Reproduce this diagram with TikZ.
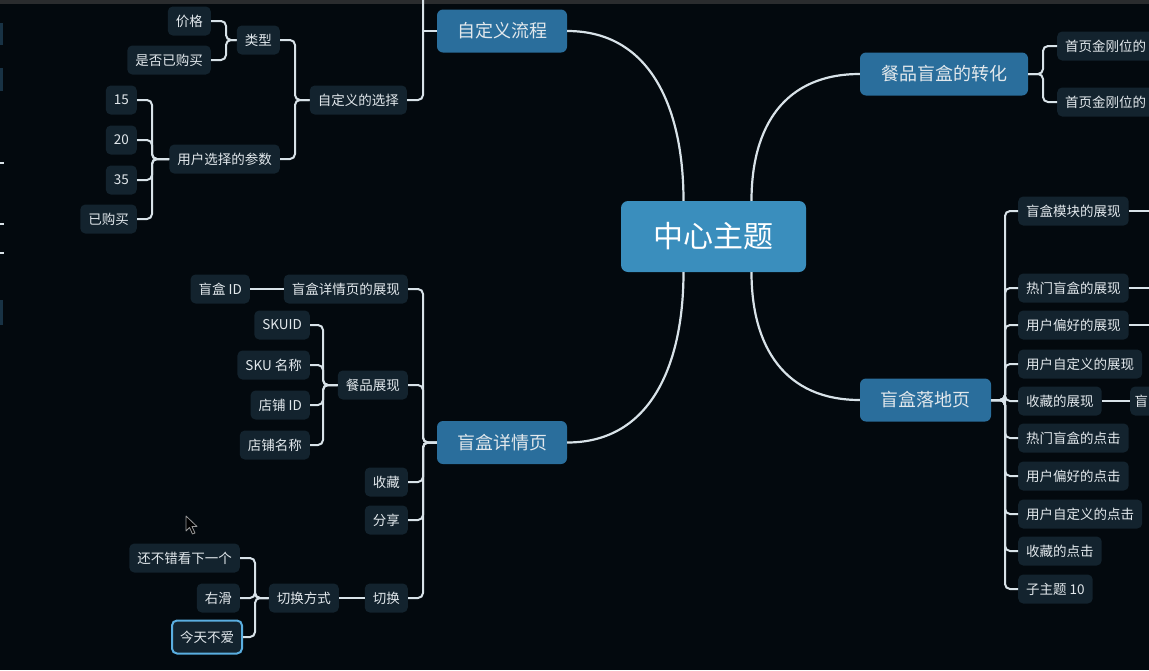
\documentclass[tikz,border=0pt]{standalone}
\usepackage{fontspec}
\setmainfont{Noto Sans CJK SC}
\usetikzlibrary{calc}
\definecolor{bgc}{HTML}{03090E}
\definecolor{barc}{HTML}{2A2C2E}
\definecolor{subc}{HTML}{13232E}
\definecolor{mainc}{HTML}{2A6E9C}
\definecolor{centc}{HTML}{3A8EBD}
\definecolor{txt}{HTML}{E2E8EC}
\definecolor{linec}{HTML}{D8E2E8}
\definecolor{hlc}{HTML}{5AAEE0}
\tikzset{
  sub/.style={fill=subc, rounded corners=5pt, text=txt, font=\fontsize{13.5}{16}\selectfont, inner xsep=8pt, inner ysep=0pt, minimum height=29pt},
  clipped/.style={sub, text width=110pt, align=left},
  mainnode/.style={fill=mainc, rounded corners=6pt, text=txt, font=\fontsize{18}{22}\selectfont, inner xsep=0pt, minimum height=43pt},
  centernode/.style={fill=centc, rounded corners=7pt, text=white, font=\fontsize{30}{34}\selectfont, minimum width=185pt, minimum height=71pt},
  conn/.style={draw=linec, line width=2pt, rounded corners=5pt},
  curve/.style={draw=linec, line width=2.2pt},
}
\begin{document}
\begin{tikzpicture}[x=1pt,y=-1pt]
\useasboundingbox (0,0) rectangle (1149,670);
\clip (0,0) rectangle (1149,670);
\fill[bgc] (0,0) rectangle (1149,670);
\fill[barc] (0,0) rectangle (1149,4);

% clipped pieces at the left edge
\fill[subc!80!mainc] (-8,23) rectangle (3,45);
\fill[subc!80!mainc] (-8,68) rectangle (3,91);
\fill[subc!80!mainc] (-8,300) rectangle (3,325);
\draw[linec, line width=2pt] (-2,163) -- (4,163);
\draw[linec, line width=2pt] (-2,224) -- (4,224);
\draw[linec, line width=2pt] (-2,253) -- (4,253);

% bracket coordinates
\coordinate (bzdy) at (423,0);
\coordinate (top) at (423,-5);
\coordinate (bxz) at (295,0);
\coordinate (blx) at (226,0);
\coordinate (bcs) at (152,0);
\coordinate (bxq) at (423,0);
\coordinate (bcp) at (323,0);
\coordinate (bfs) at (255,0);
\coordinate (bzh) at (1043,0);
\coordinate (bld) at (1005,0);
\coordinate (edge) at (1160,0);

% center and main topics
\node[centernode] (ctr) at (713.5,236.5) {中心主题};
\node[mainnode, minimum width=130pt] (zdy) at (502,31) {自定义流程};
\node[mainnode, minimum width=130pt] (xqy) at (502,442.5) {盲盒详情页};
\node[mainnode, minimum width=168pt] (zh) at (944,74) {餐品盲盒的转化};
\node[mainnode, minimum width=131pt] (ldy) at (925.5,400) {盲盒落地页};

% 自定义流程 branch
\node[sub, anchor=east] (xz) at (407,100) {自定义的选择};
\node[sub, anchor=east] (lx) at (280,40) {类型};
\node[sub, anchor=east] (jg) at (211,21) {价格};
\node[sub, anchor=east] (sf) at (211,60) {是否已购买};
\node[sub, anchor=east] (cs) at (280,159) {用户选择的参数};
\node[sub, anchor=east] (n15) at (137,100) {15};
\node[sub, anchor=east] (n20) at (137,140) {20};
\node[sub, anchor=east] (n35) at (137,180) {35};
\node[sub, anchor=east] (ygm) at (137,219) {已购买};

% 盲盒详情页 branch
\node[sub, anchor=east] (zx) at (408,289) {盲盒详情页的展现};
\node[sub, anchor=east] (mid) at (250,289) {盲盒 ID};
\node[sub, anchor=east] (cp) at (408,385) {餐品展现};
\node[sub, anchor=east] (sku) at (310,325) {SKUID};
\node[sub, anchor=east] (skumc) at (310,365) {SKU 名称};
\node[sub, anchor=east] (dpid) at (310,405) {店铺 ID};
\node[sub, anchor=east] (dpmc) at (310,445) {店铺名称};
\node[sub, anchor=east] (sc) at (408,482) {收藏};
\node[sub, anchor=east] (fx) at (408,520) {分享};
\node[sub, anchor=east] (qh) at (408,598) {切换};
\node[sub, anchor=east] (qhfs) at (339,598) {切换方式};
\node[sub, anchor=east] (hbc) at (240,558) {还不错看下一个};
\node[sub, anchor=east] (yh) at (240,598) {右滑};
\node[sub, anchor=east, draw=hlc, line width=2pt, minimum height=33pt] (jt) at (243,637) {今天不爱};

% 餐品盲盒的转化 branch
\node[clipped, anchor=west] (jg1) at (1057,46) {首页金刚位的};
\node[clipped, anchor=west] (jg2) at (1057,102) {首页金刚位的};

% 盲盒落地页 branch
\node[sub, anchor=west] (r1) at (1018,211) {盲盒模块的展现};
\node[sub, anchor=west] (r2) at (1018,288) {热门盲盒的展现};
\node[sub, anchor=west] (r3) at (1018,325) {用户偏好的展现};
\node[sub, anchor=west] (r4) at (1018,364) {用户自定义的展现};
\node[sub, anchor=west] (r5) at (1018,401) {收藏的展现};
\node[sub, anchor=west, inner xsep=4.5pt, text width=40pt, align=left] (r5a) at (1130,401) {盲};
\node[sub, anchor=west] (r6) at (1018,438) {热门盲盒的点击};
\node[sub, anchor=west] (r7) at (1018,476) {用户偏好的点击};
\node[sub, anchor=west] (r8) at (1018,514) {用户自定义的点击};
\node[sub, anchor=west] (r9) at (1018,551) {收藏的点击};
\node[sub, anchor=west] (r10) at (1018,589) {子主题 10};

% curves from the center
\draw[curve] (zdy.east) .. controls +(85,0) and +(0,-90) .. ($(ctr.north)+(-30,0)$);
\draw[curve] (xqy.east) .. controls +(85,0) and +(0,90) .. ($(ctr.south)+(-30,0)$);
\draw[curve] (zh.west) .. controls +(-75,0) and +(0,-75) .. ($(ctr.north)+(38,0)$);
\draw[curve] (ldy.west) .. controls +(-75,0) and +(0,75) .. ($(ctr.south)+(38,0)$);

% 自定义流程 connectors
\draw[conn] (zdy.west) -- (zdy.west -| bzdy);
\draw[conn] (xz.east) -- (xz.east -| bzdy) -- (top);
\draw[conn] (lx.east) -- (lx.east -| bxz) -- (xz.west -| bxz) -- (xz.west);
\draw[conn] (cs.east) -- (cs.east -| bxz) -- (xz.west -| bxz) -- (xz.west);
\draw[conn] (jg.east) -- (jg.east -| blx) -- (lx.west -| blx) -- (lx.west);
\draw[conn] (sf.east) -- (sf.east -| blx) -- (lx.west -| blx) -- (lx.west);
\foreach \c in {n15,n20,n35,ygm}
  \draw[conn] (\c.east) -- (\c.east -| bcs) -- (cs.west -| bcs) -- (cs.west);

% 盲盒详情页 connectors
\foreach \c in {zx,cp,sc,fx,qh}
  \draw[conn] (\c.east) -- (\c.east -| bxq) -- (xqy.west -| bxq) -- (xqy.west);
\draw[conn] (mid.east) -- (zx.west);
\foreach \c in {sku,skumc,dpid,dpmc}
  \draw[conn] (\c.east) -- (\c.east -| bcp) -- (cp.west -| bcp) -- (cp.west);
\draw[conn] (qhfs.east) -- (qh.west);
\foreach \c in {hbc,yh,jt}
  \draw[conn] (\c.east) -- (\c.east -| bfs) -- (qhfs.west -| bfs) -- (qhfs.west);

% 餐品盲盒的转化 connectors
\foreach \c in {jg1,jg2}
  \draw[conn] (zh.east) -- (zh.east -| bzh) -- (\c.west -| bzh) -- (\c.west);

% 盲盒落地页 connectors
\foreach \c in {r1,r2,r3,r4,r5,r6,r7,r8,r9,r10}
  \draw[conn] (ldy.east) -- (ldy.east -| bld) -- (\c.west -| bld) -- (\c.west);
\foreach \c in {r1,r2,r3}
  \draw[conn] (\c.east) -- (\c.east -| edge);
\draw[conn] (r5.east) -- (r5a.west);

% mouse pointer
\draw[gray!80, fill=black, line width=0.8pt, line join=round]
  (186,516) -- (186,531) -- (189.5,527.5) -- (192.5,534) -- (195,533) -- (192,526.5) -- (197,526.5) -- cycle;
\end{tikzpicture}
\end{document}
